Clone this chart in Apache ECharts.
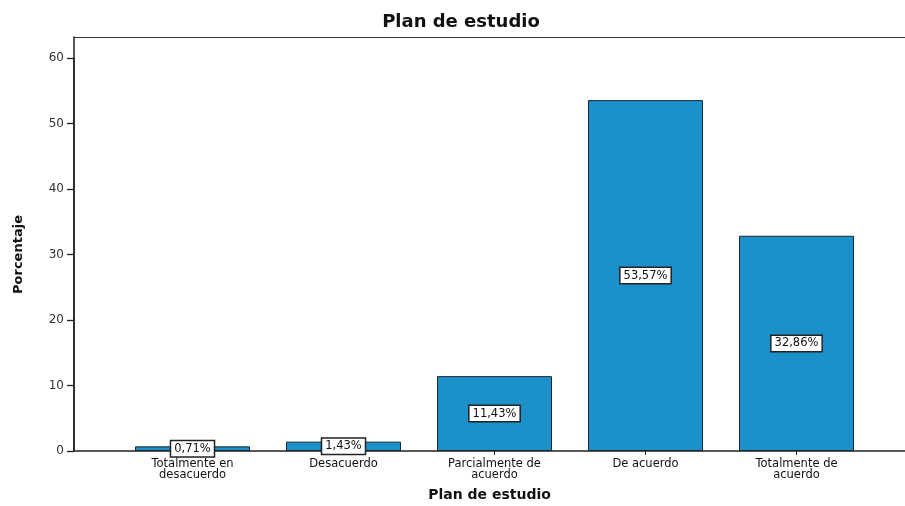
<!DOCTYPE html>
<html><head><meta charset="utf-8">
<script src="https://cdn.jsdelivr.net/npm/echarts@6/dist/echarts.min.js"></script>
<style>html,body{margin:0;padding:0;background:#fff}#c{width:905px;height:506px}</style>
</head><body><div id="c"></div>
<script>
const categories = ["Totalmente en\ndesacuerdo", "Desacuerdo", "Parcialmente de\nacuerdo", "De acuerdo", "Totalmente de\nacuerdo"];
const values = [0.71, 1.43, 11.43, 53.57, 32.86];
const yTicks = [0, 10, 20, 30, 40, 50, 60];

const FONT = '"DejaVu Sans", Verdana, sans-serif';
const chart = echarts.init(document.getElementById('c'));
chart.setOption({
  animation: false,
  backgroundColor: '#fff',
  title: {
    text: 'Plan de estudio', left: 456, top: 8, textAlign: 'center',
    textStyle: {fontFamily: FONT, fontSize: 18, fontWeight: 'bold', color: '#111'}
  },
  grid: [
    {left: 74, right: 0, top: 37, bottom: 55, outerBoundsMode: 'none', containLabel: false},
    {left: 74, right: 0, top: 58, bottom: 55, outerBoundsMode: 'none', containLabel: false},
    {left: 117, right: 33, top: 58, bottom: 55, outerBoundsMode: 'none', containLabel: false}
  ],
  xAxis: [
    {gridIndex: 0, type: 'value', min: 0, max: 1, position: 'top',
     axisLine: {show: true, onZero: false, lineStyle: {color: '#333', width: 1.2}},
     axisTick: {show: false}, axisLabel: {show: false}, splitLine: {show: false}},
    {gridIndex: 1, type: 'value', min: 0, max: 1,
     axisLine: {show: true, onZero: false, lineStyle: {color: '#222', width: 1.5}},
     axisTick: {show: false}, axisLabel: {show: false}, splitLine: {show: false},
     name: 'Plan de estudio', nameLocation: 'middle', nameGap: 37,
     nameTextStyle: {fontFamily: FONT, fontSize: 14, fontWeight: 'bold', color: '#111'}},
    {gridIndex: 2, type: 'category', data: categories,
     axisLine: {show: false},
     axisTick: {show: true, alignWithLabel: true, length: 4, lineStyle: {color: '#222'}},
     axisLabel: {fontFamily: FONT, fontSize: 11.5, color: '#111', lineHeight: 11.5, margin: 7, interval: 0}}
  ],
  yAxis: [
    {gridIndex: 0, type: 'value', min: 0, max: 1,
     axisLine: {show: true, onZero: false, lineStyle: {color: '#222', width: 1.5}},
     axisTick: {show: false}, axisLabel: {show: false}, splitLine: {show: false}},
    {gridIndex: 1, type: 'value', min: 0, max: 60, interval: 10,
     axisLine: {show: true, onZero: false, lineStyle: {color: '#222', width: 1.5}},
     axisTick: {show: true, length: 7, lineStyle: {color: '#222', width: 1.3}},
     axisLabel: {fontFamily: FONT, fontSize: 12, color: '#333', margin: 10,
       formatter: v => yTicks.includes(v) ? String(v) : ''},
     splitLine: {show: false},
     name: 'Porcentaje', nameLocation: 'middle', nameGap: 49,
     nameTextStyle: {fontFamily: FONT, fontSize: 13, fontWeight: 'bold', color: '#111'}},
    {gridIndex: 2, type: 'value', min: 0, max: 60, show: false}
  ],
  series: [{
    type: 'bar', xAxisIndex: 2, yAxisIndex: 2, data: values,
    barWidth: 115,
    itemStyle: {color: '#1c91c9', borderColor: '#1a2530', borderWidth: 1},
    label: {
      show: true, position: 'inside',
      formatter: p => p.value.toFixed(2).replace('.', ',') + '%',
      fontFamily: FONT, fontSize: 11.5, color: '#111',
      backgroundColor: '#fff', borderColor: '#222', borderWidth: 1.5,
      padding: [2, 3, 1, 3]
    }
  }]
});
</script></body></html>
